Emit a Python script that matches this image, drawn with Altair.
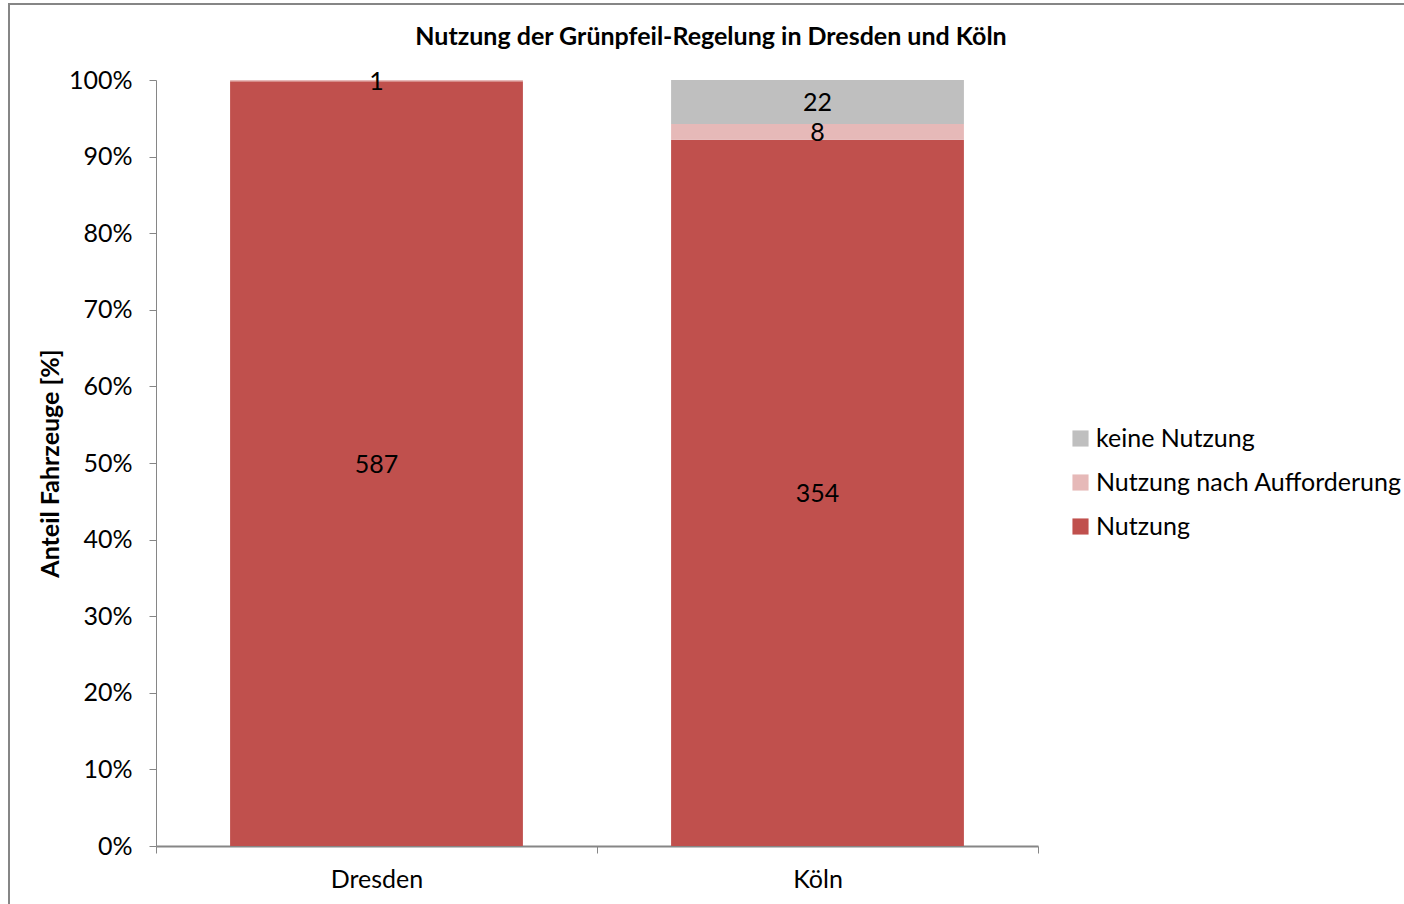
import altair as alt
import pandas as pd

cities = ["Dresden", "Köln"]
categories = ["Nutzung", "Nutzung nach Aufforderung", "keine Nutzung"]
nutzung = [587, 354]
nach_aufforderung = [1, 8]
keine = [0, 22]
colors = ["#C0504D", "#E6B9B8", "#BFBFBF"]

rows = []
for i, c in enumerate(cities):
    vals = [nutzung[i], nach_aufforderung[i], keine[i]]
    total = sum(vals)
    cum = 0
    for k, (cat, v) in enumerate(zip(categories, vals)):
        rows.append({"Stadt": c, "Kategorie": cat, "Anzahl": v, "order": k,
                     "mid": (cum + v / 2) / total})
        cum += v
df = pd.DataFrame(rows)

FONT = "Lato"
FS = 25

x_scale = alt.Scale(paddingInner=0, paddingOuter=0)
x_enc = alt.X("Stadt:N", sort=cities, title=None, scale=x_scale,
              axis=alt.Axis(labelAngle=0, tickBand="extent", tickSize=7,
                            labelPadding=14, labelFontSize=FS, labelFont=FONT,
                            labelColor="#000000", domainColor="#868686",
                            domainWidth=2, tickColor="#868686"))

bars = alt.Chart(df).mark_bar(width=alt.RelativeBandSize(0.664)).encode(
    x=x_enc,
    y=alt.Y("Anzahl:Q", stack="normalize",
            scale=alt.Scale(domain=[0, 1]),
            axis=alt.Axis(format="%", values=[i / 10 for i in range(11)],
                          title="Anteil Fahrzeuge [%]", titleFont=FONT,
                          titleFontSize=FS, titleFontWeight="bold",
                          titleColor="#000000", titleX=-106, titleY=383,
                          titleAngle=-90, titleBaseline="middle",
                          titleAlign="center",
                          labelFont=FONT, labelFontSize=FS, labelColor="#000000",
                          labelPadding=17, tickSize=7, tickColor="#868686",
                          domainColor="#868686", grid=False)),
    color=alt.Color("Kategorie:N",
                    scale=alt.Scale(domain=categories[::-1], range=colors[::-1]),
                    legend=alt.Legend(title=None, orient="none", legendX=912,
                                      legendY=346, symbolType="square",
                                      symbolSize=260, symbolStrokeWidth=0,
                                      labelFont=FONT, labelFontSize=FS,
                                      labelLimit=0,
                                      labelColor="#000000", rowPadding=18,
                                      labelOffset=3)),
    order=alt.Order("order:Q"),
)

labels = alt.Chart(df).transform_filter("datum.Anzahl > 0").mark_text(
    font=FONT, fontSize=FS, color="#000000", baseline="middle", dy=1
).encode(
    x=alt.X("Stadt:N", sort=cities, scale=x_scale),
    y=alt.Y("mid:Q"),
    text="Anzahl:Q",
)

frame = alt.Chart(df).mark_rect(fill=None, stroke="#868686", strokeWidth=1.5).encode(
    x=alt.value(-147), x2=alt.value(1270), y=alt.value(-76), y2=alt.value(840)
)

chart = alt.layer(frame, bars, labels).properties(
    width=882, height=766,
    title=alt.TitleParams("Nutzung der Grünpfeil-Regelung in Dresden und Köln",
                          font=FONT, fontSize=FS, fontWeight="bold",
                          color="#000000", anchor="middle", frame="group",
                          dx=114, offset=35, dy=82),
    padding={"left": 156, "top": 80, "right": 366, "bottom": 58},
    autosize=alt.AutoSizeParams(type="none"),
).configure(background="white").configure_view(stroke=None)

chart.save("out.html", embed_options={"renderer": "svg", "actions": False})
